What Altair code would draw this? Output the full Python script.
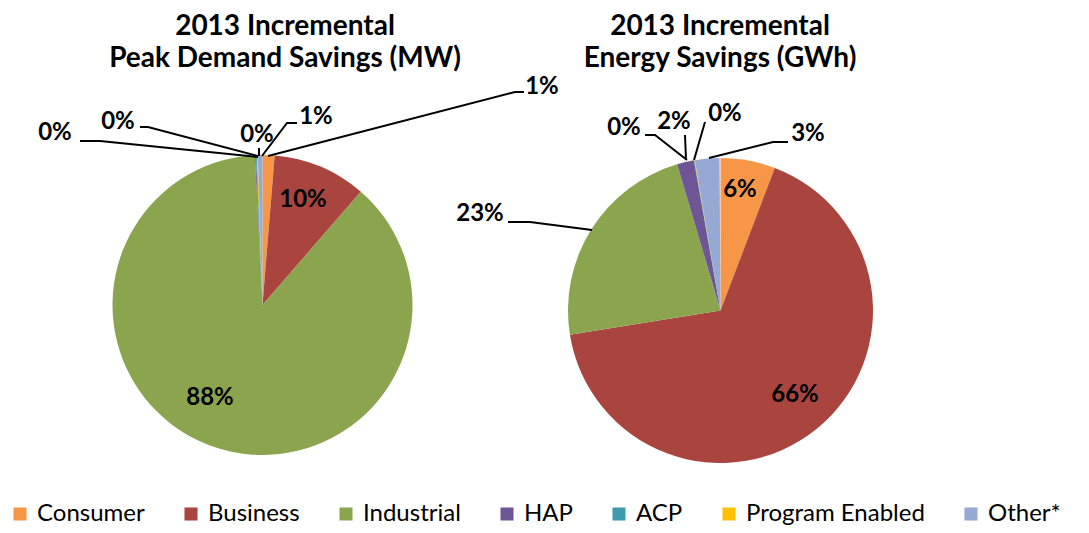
import altair as alt
import pandas as pd

# ---- data ----
categories = ["Consumer", "Business", "Industrial", "HAP", "ACP", "Program Enabled", "Other*"]
colors = ["#F79646", "#A9443F", "#8BA54F", "#6E5696", "#3E9BB0", "#FFC000", "#96A9D4"]
peak_values = [1.3, 10.1, 88.0, 0.1, 0.1, 0.1, 0.5]
peak_labels = ["1%", "10%", "88%", "0%", "0%", "0%", "1%"]
energy_values = [5.8, 66.8, 23.0, 1.8, 0.05, 0.05, 2.6]
energy_labels = ["6%", "66%", "23%", "2%", "0%", "0%", "3%"]
peak_title = ["2013 Incremental", "Peak Demand Savings (MW)"]
energy_title = ["2013 Incremental", "Energy Savings (GWh)"]

# ---- layout (chart pixel coordinates) ----
W, H = 1073, 517
peak_center, peak_r = (254.5, 297), 150
energy_center, energy_r = (712.5, 302.5), 152.5

peak_label_pos = [(534, 79), (295, 192), (202, 390), (47, 125), (110, 114), (249, 127), (308, 109)]
energy_label_pos = [(732, 182), (787, 387), (472, 206), (666, 114), (616, 120), (717, 106), (800, 126)]

peak_leaders = {
    "Consumer": [(260, 148), (507, 84), (516, 84)],
    "HAP": [(250, 149), (92, 133), (72, 133)],
    "ACP": [(250, 148), (140, 119), (132, 119)],
    "Program Enabled": [(251, 148), (251, 140)],
    "Other*": [(254, 148), (279, 115), (289, 115)],
}
energy_leaders = {
    "Industrial": [(584, 222), (522, 214), (500, 214)],
    "ACP": [(679, 152), (647, 127), (637, 127)],
    "HAP": [(678, 152), (677, 127)],
    "Program Enabled": [(686, 152), (697, 114)],
    "Other*": [(701, 150), (765, 134), (780, 134)],
}

font = "Lato"

pie_df = pd.DataFrame({
    "cat": categories * 2,
    "idx": list(range(7)) * 2,
    "value": peak_values + energy_values,
    "pie": ["peak"] * 7 + ["energy"] * 7,
})

color_scale = alt.Scale(domain=categories, range=colors)
legend = alt.Legend(
    title=None, orient="none", direction="horizontal", columns=7,
    legendX=0, legendY=494, symbolType="square", symbolSize=170,
    symbolStrokeWidth=0, labelFont=font, labelFontSize=24, labelColor="#000",
    columnPadding=34, labelOffset=5, labelLimit=300,
)


def pie_layer(name, center, r, show_legend):
    return alt.Chart(pie_df).transform_filter(alt.datum.pie == name).mark_arc(
        radius=r, stroke=None
    ).encode(
        theta=alt.Theta("value:Q", stack=True),
        order=alt.Order("idx:Q"),
        color=alt.Color("cat:N", scale=color_scale, legend=legend if show_legend else None),
        x=alt.value(center[0]),
        y=alt.value(center[1]),
    )


label_rows = []
for lab, pos in zip(peak_labels, peak_label_pos):
    label_rows.append({"t": lab, "x": pos[0], "y": pos[1]})
for lab, pos in zip(energy_labels, energy_label_pos):
    label_rows.append({"t": lab, "x": pos[0], "y": pos[1]})
labels_df = pd.DataFrame(label_rows)

line_rows = []
for prefix, leaders in (("p", peak_leaders), ("e", energy_leaders)):
    for k, pts in leaders.items():
        for i, (x, y) in enumerate(pts):
            line_rows.append({"id": prefix + k, "o": i, "x": x, "y": y})
lines_df = pd.DataFrame(line_rows)

title_rows = [
    {"t": peak_title[0], "x": 277, "y": 27},
    {"t": peak_title[1], "x": 277, "y": 59},
    {"t": energy_title[0], "x": 712, "y": 27},
    {"t": energy_title[1], "x": 712, "y": 59},
]
titles_df = pd.DataFrame(title_rows)

lines = alt.Chart(lines_df).mark_line(color="#000", strokeWidth=2).encode(
    x=alt.X("x:Q", scale=None, axis=None),
    y=alt.Y("y:Q", scale=None, axis=None),
    detail="id:N",
    order="o:Q",
)

texts = alt.Chart(labels_df).mark_text(
    font=font, fontSize=24, fontWeight="bold", color="#000", baseline="middle", align="center"
).encode(
    x=alt.X("x:Q", scale=None, axis=None),
    y=alt.Y("y:Q", scale=None, axis=None),
    text="t:N",
)

titles = alt.Chart(titles_df).mark_text(
    font=font, fontSize=28, fontWeight="bold", color="#000", baseline="alphabetic", align="center"
).encode(
    x=alt.X("x:Q", scale=None, axis=None),
    y=alt.Y("y:Q", scale=None, axis=None),
    text="t:N",
)

chart = alt.layer(
    pie_layer("peak", peak_center, peak_r, True),
    pie_layer("energy", energy_center, energy_r, False),
    lines,
    texts,
    titles,
).properties(
    width=W, height=H, padding=0, autosize=alt.AutoSizeParams(type="none"),
    background="white",
).configure_view(stroke=None)

chart.save("out.html", embed_options={"renderer": "svg", "actions": False})
